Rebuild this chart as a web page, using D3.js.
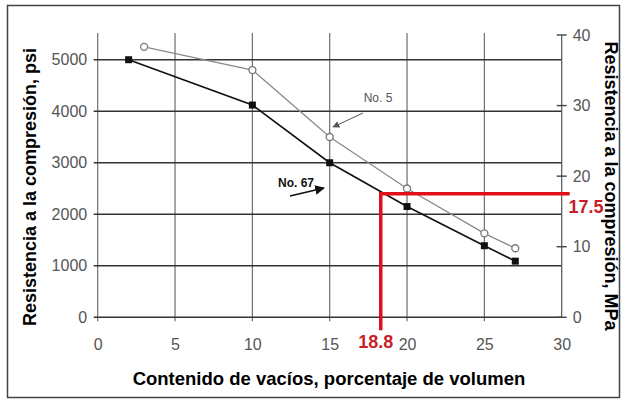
<!DOCTYPE html>
<html>
<head>
<meta charset="utf-8">
<script src="https://cdn.jsdelivr.net/npm/d3@7"></script>
<style>
  body { margin: 0; background: #fff; }
  svg { display: block; font-family: "Liberation Sans", Arial, sans-serif; }
</style>
</head>
<body>
<div id="chart"></div>
<script>
// data
var voids67 = [2, 10, 15, 20, 25, 27]
var psi67 = [5000, 4120, 3000, 2150, 1390, 1090]
var voids5 = [3, 10, 15, 20, 25, 27]
var psi5 = [5250, 4800, 3500, 2500, 1630, 1340]

var xTicks = [0, 5, 10, 15, 20, 25, 30]
var psiTicks = [0, 1000, 2000, 3000, 4000, 5000]
var mpaTicks = [0, 10, 20, 30, 40]

// red reference lines (drawn position on the axis, and the printed labels)
var refVoids = 18.3
var refMpa = 17.5
var refLabels = ['18.8', '17.5']

var width = 622
var height = 399
var plotLeft = 97.7, plotRight = 561.7, plotBottom = 317.3, plotTop = 35

var x = d3.scaleLinear().domain([0, 30]).range([plotLeft, plotRight])
var yL = d3.scaleLinear().domain([0, 5480]).range([plotBottom, plotTop])
var yR = d3.scaleLinear().domain([0, 40]).range([plotBottom, plotTop])

var svg = d3.select('#chart').append('svg')
  .attr('width', width)
  .attr('height', height)

svg.append('rect')
  .attr('x', 7.5).attr('y', 5.5)
  .attr('width', 612).attr('height', 392)
  .attr('fill', '#fff')
  .attr('stroke', '#444')
  .attr('stroke-width', 1.5)

// vertical grid
svg.append('g').selectAll('line')
  .data(xTicks.filter(function(d) { return d < 30 }))
  .enter().append('line')
  .attr('x1', function(d) { return x(d) })
  .attr('x2', function(d) { return x(d) })
  .attr('y1', 33)
  .attr('y2', plotBottom + 4)
  .attr('stroke', '#6e6e6e')
  .attr('stroke-width', 1.2)

// horizontal grid
svg.append('g').selectAll('line')
  .data(psiTicks)
  .enter().append('line')
  .attr('x1', x(0) - 4)
  .attr('x2', x(30))
  .attr('y1', function(d) { return yL(d) })
  .attr('y2', function(d) { return yL(d) })
  .attr('stroke', '#333')
  .attr('stroke-width', 1.6)

// right axis line + ticks
svg.append('line')
  .attr('x1', x(30)).attr('x2', x(30))
  .attr('y1', yR(40)).attr('y2', yR(0))
  .attr('stroke', '#555').attr('stroke-width', 1.2)
svg.append('g').selectAll('line')
  .data(mpaTicks)
  .enter().append('line')
  .attr('x1', x(30) - 5)
  .attr('x2', x(30) + 5)
  .attr('y1', function(d) { return yR(d) })
  .attr('y2', function(d) { return yR(d) })
  .attr('stroke', '#444')
  .attr('stroke-width', 1.4)

// tick labels through d3 axes
var fmt = d3.format('d')
var axisL = svg.append('g')
  .attr('transform', 'translate(' + plotLeft + ',0)')
  .call(d3.axisLeft(yL).tickValues(psiTicks).tickFormat(fmt).tickSize(0).tickPadding(10.5))
var axisB = svg.append('g')
  .attr('transform', 'translate(0,' + plotBottom + ')')
  .call(d3.axisBottom(x).tickValues(xTicks).tickFormat(fmt).tickSize(0).tickPadding(21))
var axisR = svg.append('g')
  .attr('transform', 'translate(' + plotRight + ',0)')
  .call(d3.axisRight(yR).tickValues(mpaTicks).tickFormat(fmt).tickSize(0).tickPadding(11))

;[axisL, axisB, axisR].forEach(function(a) {
  a.select('.domain').remove()
  a.selectAll('text')
    .attr('fill', '#555')
    .style('font-size', '16px')
    .style('font-family', '"Liberation Sans", Arial, sans-serif')
})

// series
var line = d3.line()
  .x(function(d) { return x(d[0]) })
  .y(function(d) { return yL(d[1]) })

var data5 = d3.zip(voids5, psi5)
var data67 = d3.zip(voids67, psi67)

svg.append('path')
  .datum(data5)
  .attr('fill', 'none')
  .attr('stroke', '#8a8a8a')
  .attr('stroke-width', 1.3)
  .attr('d', line)

svg.append('path')
  .datum(data67)
  .attr('fill', 'none')
  .attr('stroke', '#111')
  .attr('stroke-width', 1.6)
  .attr('d', line)

svg.append('g').selectAll('circle')
  .data(data5)
  .enter().append('circle')
  .attr('cx', function(d) { return x(d[0]) })
  .attr('cy', function(d) { return yL(d[1]) })
  .attr('r', 3.5)
  .attr('fill', '#fff')
  .attr('stroke', '#777')
  .attr('stroke-width', 1.3)

svg.append('g').selectAll('rect')
  .data(data67)
  .enter().append('rect')
  .attr('x', function(d) { return x(d[0]) - 3.5 })
  .attr('y', function(d) { return yL(d[1]) - 3.5 })
  .attr('width', 7)
  .attr('height', 7)
  .attr('fill', '#111')

// series labels with arrows
var defs = svg.append('defs')
function marker(id, color) {
  defs.append('marker')
    .attr('id', id)
    .attr('viewBox', '0 0 10 10')
    .attr('refX', 9).attr('refY', 5)
    .attr('markerWidth', 7).attr('markerHeight', 7)
    .attr('orient', 'auto')
    .append('path')
    .attr('d', 'M0,0 L10,5 L0,10 z')
    .attr('fill', color)
}
marker('ah5', '#555')
marker('ah67', '#111')

svg.append('text')
  .attr('x', 378).attr('y', 102)
  .attr('text-anchor', 'middle')
  .attr('fill', '#555')
  .style('font-size', '12px')
  .text('No. 5')
svg.append('line')
  .attr('x1', 363).attr('y1', 113)
  .attr('x2', 333).attr('y2', 127)
  .attr('stroke', '#555').attr('stroke-width', 1)
  .attr('marker-end', 'url(#ah5)')

svg.append('text')
  .attr('x', 296).attr('y', 187)
  .attr('text-anchor', 'middle')
  .attr('fill', '#111')
  .attr('font-weight', 'bold')
  .style('font-size', '12px')
  .text('No. 67')
svg.append('line')
  .attr('x1', 290).attr('y1', 196)
  .attr('x2', 324).attr('y2', 188)
  .attr('stroke', '#111').attr('stroke-width', 1.4)
  .attr('marker-end', 'url(#ah67)')

// red reference lines
svg.append('path')
  .attr('d', 'M' + x(refVoids) + ',' + (plotBottom + 13) +
    ' V' + yR(refMpa) + ' H' + (x(30) + 8))
  .attr('fill', 'none')
  .attr('stroke', '#e0101a')
  .attr('stroke-width', 3.5)

svg.append('text')
  .attr('x', x(refVoids) - 5).attr('y', 348)
  .attr('text-anchor', 'middle')
  .attr('fill', '#c81e28')
  .attr('font-weight', 'bold')
  .style('font-size', '18px')
  .text(refLabels[0])
svg.append('text')
  .attr('x', 586).attr('y', yR(refMpa) + 19)
  .attr('text-anchor', 'middle')
  .attr('fill', '#c81e28')
  .attr('font-weight', 'bold')
  .style('font-size', '18px')
  .text(refLabels[1])

// axis titles
svg.append('text')
  .attr('transform', 'translate(36,187) rotate(-90)')
  .attr('text-anchor', 'middle')
  .attr('font-weight', 'bold')
  .style('font-size', '18px')
  .text('Resistencia a la compresión, psi')

svg.append('text')
  .attr('transform', 'translate(605,186) rotate(90)')
  .attr('text-anchor', 'middle')
  .attr('font-weight', 'bold')
  .style('font-size', '18px')
  .text('Resistencia a la compresión, MPa')

svg.append('text')
  .attr('x', 329).attr('y', 385)
  .attr('text-anchor', 'middle')
  .attr('font-weight', 'bold')
  .style('font-size', '18.5px')
  .text('Contenido de vacíos, porcentaje de volumen')
</script>
</body>
</html>
